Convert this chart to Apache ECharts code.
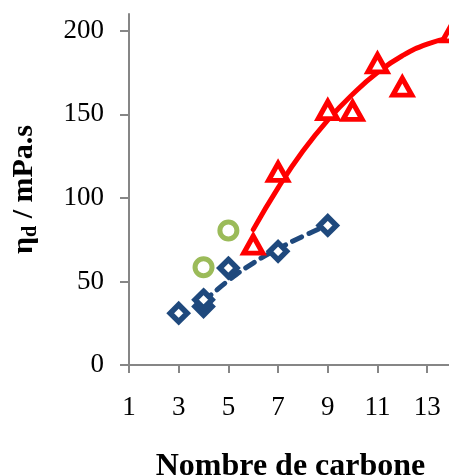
<!DOCTYPE html>
<html>
<head>
<meta charset="utf-8">
<script src="https://cdn.jsdelivr.net/npm/echarts@6/dist/echarts.min.js"></script>
<style>
  html, body { margin: 0; padding: 0; background: #fff; }
  #chart { width: 449px; height: 475px; }
</style>
</head>
<body>
<div id="chart"></div>
<script>
// points
var blueX = [3, 4, 4, 5, 7, 9];
var blueY = [31, 35, 39, 58, 68, 83.5];
// log trendline of the blue series
var blueFitX = [4, 5, 6, 7, 8, 9];
var blueFitY = [38, 50.5, 61, 69.5, 77, 83.7];

var greenX = [4, 5];
var greenY = [58.5, 80.5];

var redX = [6, 7, 9, 10, 11, 12, 14];
var redY = [72, 115.5, 152.5, 152, 180.5, 166.5, 199];
// polynomial trendline of the red series
var redFitX = [6, 7, 8, 9, 10, 11, 12, 13, 14];
var redFitY = [81, 106, 128, 146.5, 162, 175, 185, 192, 196];

var xTicks = [1, 3, 5, 7, 9, 11, 13];
var yTicks = [0, 50, 100, 150, 200];

var pairs = function (xs, ys) {
  var out = [];
  for (var i = 0; i < xs.length; i++) out.push([xs[i], ys[i]]);
  return out;
};

var font = 'Liberation Serif';
var axisGrey = '#868686';

var chart = echarts.init(document.getElementById('chart'));
chart.setOption({
  animation: false,
  grid: { left: 129, top: 14, right: -3, bottom: 110, outerBoundsMode: 'none' },
  xAxis: {
    type: 'value', min: 1, max: 14,
    name: 'Nombre de carbone', nameLocation: 'middle', nameGap: 86,
    nameTextStyle: { fontFamily: font, fontSize: 32, fontWeight: 'bold', color: '#000' },
    axisLine: { lineStyle: { color: axisGrey, width: 2 } },
    axisTick: { show: true, length: 8, lineStyle: { color: axisGrey, width: 2 }, customValues: xTicks },
    axisLabel: { fontFamily: font, fontSize: 27, color: '#000', margin: 29, customValues: xTicks },
    splitLine: { show: false }
  },
  yAxis: {
    type: 'value', min: 0, max: 210,
    name: '{a|η}{s|d}{a| / mPa.s}', nameLocation: 'middle', nameGap: 88,
    nameTextStyle: {
      fontFamily: font, fontSize: 30, fontWeight: 'bold', color: '#000',
      rich: {
        a: { fontFamily: font, fontSize: 30, fontWeight: 'bold', color: '#000' },
        s: { fontFamily: font, fontSize: 20, fontWeight: 'bold', color: '#000', padding: [14, 0, 0, 0] }
      }
    },
    axisLine: { show: true, lineStyle: { color: axisGrey, width: 2 } },
    axisTick: { show: true, length: 9, lineStyle: { color: axisGrey, width: 2 }, customValues: yTicks },
    axisLabel: { fontFamily: font, fontSize: 27, color: '#000', margin: 25, customValues: yTicks },
    splitLine: { show: false }
  },
  series: [
    {
      type: 'line', data: pairs(blueFitX, blueFitY), smooth: true, showSymbol: false, z: 2,
      lineStyle: { color: '#1F497D', width: 5, type: [10, 8], cap: 'round' }
    },
    {
      type: 'line', data: pairs(redFitX, redFitY), smooth: true, showSymbol: false, z: 2,
      lineStyle: { color: '#FF0000', width: 5, cap: 'round' }
    },
    {
      type: 'scatter', data: pairs(blueX, blueY), symbol: 'diamond', symbolSize: 17, z: 3,
      itemStyle: { color: '#fff', borderColor: '#1F497D', borderWidth: 5.5, opacity: 1 }
    },
    {
      type: 'scatter', data: pairs(greenX, greenY), symbol: 'circle', symbolSize: 17, z: 3,
      itemStyle: { color: '#fff', borderColor: '#9BBB59', borderWidth: 5, opacity: 1 }
    },
    {
      type: 'scatter', data: pairs(redX, redY), symbol: 'triangle', symbolSize: [19, 17], z: 3,
      itemStyle: { color: '#fff', borderColor: '#FF0000', borderWidth: 5, opacity: 1 }
    }
  ]
});
</script>
</body>
</html>
